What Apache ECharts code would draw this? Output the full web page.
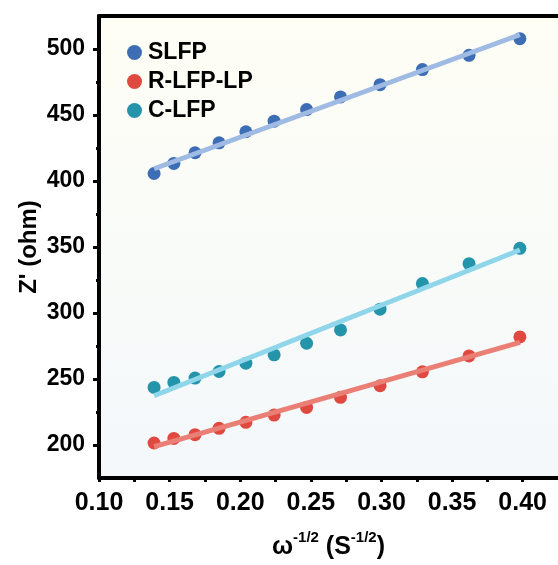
<!DOCTYPE html>
<html>
<head>
<meta charset="utf-8">
<script src="https://cdn.jsdelivr.net/npm/echarts@6/dist/echarts.min.js"></script>
<style>html,body{margin:0;padding:0;background:#fff}#c{width:558px;height:565px}</style>
</head>
<body>
<div id="c"></div>
<script>
// ---- data ----
const xValues = [0.139, 0.153, 0.168, 0.185, 0.204, 0.224, 0.247, 0.271, 0.299, 0.329, 0.362, 0.398];
const slfp    = [405.7, 413.3, 421.4, 428.9, 437.3, 445.3, 454.1, 463.7, 473.0, 484.4, 495.2, 507.8];
const rlfplp  = [201.5, 205.0, 207.8, 212.6, 217.2, 222.7, 228.5, 236.1, 244.9, 255.4, 267.5, 281.9];
const clfp    = [243.6, 247.4, 250.7, 255.7, 262.0, 268.3, 277.1, 287.2, 302.9, 322.3, 337.4, 349.0];
// fitted straight lines (end points)
const fitX     = [0.139, 0.398];
const fitSLFP  = [409.3, 510.8];
const fitRLFP  = [198.7, 277.7];
const fitCLFP  = [237.3, 347.7];
// axis ticks
const xTickLabels = [0.10, 0.15, 0.20, 0.25, 0.30, 0.35, 0.40];
const xTicksAll   = [0.10, 0.125, 0.15, 0.175, 0.20, 0.225, 0.25, 0.275, 0.30, 0.325, 0.35, 0.375, 0.40];
const yTickLabels = [200, 250, 300, 350, 400, 450, 500];
const yMinorTicks = [225, 275, 325, 375, 425, 475];
const seriesNames = ['SLFP', 'R-LFP-LP', 'C-LFP'];

const FONT = 'Liberation Sans, Arial, Helvetica, sans-serif';
const dotColors = ['#3d6db5', '#e0493f', '#2494ab'];
const lineColors = ['#9fbbe3', '#ea7f76', '#8fd6ea'];

function pairs(xs, ys) { return xs.map((x, i) => [x, ys[i]]); }

const chart = echarts.init(document.getElementById('c'), null, {renderer: 'canvas'});
const xMin = 0.1, xMax = 0.425, yMin = 175, yMax = 525;

const option = {
  animation: false,
  textStyle: {fontFamily: FONT},
  grid: {
    left: 99, top: 16, right: -5, bottom: 87,
    show: true, borderWidth: 0,
    backgroundColor: {type: 'linear', x: 0, y: 0, x2: 0, y2: 1,
      colorStops: [{offset: 0, color: '#fefef5'}, {offset: 1, color: '#f4f8fb'}]}
  },
  legend: {
    data: seriesNames,
    orient: 'vertical', left: 122, top: 36,
    icon: 'circle', itemWidth: 15, itemHeight: 15, itemGap: 6,
    textStyle: {fontFamily: FONT, fontSize: 23, fontWeight: 'bold', color: '#000', lineHeight: 23, padding: [0, 0, 0, 1]}
  },
  xAxis: [
    {
      type: 'value', position: 'bottom', min: xMin, max: xMax,
      splitLine: {show: false},
      axisLine: {show: true, onZero: false, lineStyle: {color: '#000', width: 4}},
      axisTick: {show: true, customValues: xTicksAll, length: 4, lineStyle: {color: '#000', width: 3}},
      axisLabel: {customValues: xTickLabels, margin: 13, fontSize: 25, fontWeight: 'bold', color: '#000', fontFamily: FONT,
        formatter: v => v.toFixed(2)},
      name: '{b|ω}{s|-1/2}{b| (S}{s|-1/2}{b|)}',
      nameLocation: 'middle', nameGap: 52, nameMoveOverlap: false,
      nameTextStyle: {
        rich: {
          b: {fontSize: 25, fontWeight: 'bold', color: '#000', fontFamily: FONT, verticalAlign: 'bottom', lineHeight: 30},
          s: {fontSize: 15, fontWeight: 'bold', color: '#000', fontFamily: FONT, verticalAlign: 'top', lineHeight: 30}
        }
      }
    },
    {
      type: 'value', position: 'top', min: xMin, max: xMax,
      splitLine: {show: false},
      axisLine: {show: true, onZero: false, lineStyle: {color: '#000', width: 4}},
      axisTick: {show: false}, axisLabel: {show: false}
    }
  ],
  yAxis: [
    {
      type: 'value', position: 'left', min: yMin, max: yMax,
      splitLine: {show: false},
      axisLine: {show: true, onZero: false, lineStyle: {color: '#000', width: 4}},
      axisTick: {show: true, customValues: yTickLabels, length: 6, lineStyle: {color: '#000', width: 3}},
      axisLabel: {customValues: yTickLabels, margin: 14, fontSize: 23, fontWeight: 'bold', color: '#000', fontFamily: FONT},
      name: "Z' (ohm)", nameLocation: 'middle', nameGap: 58, nameRotate: 90, nameMoveOverlap: false,
      nameTextStyle: {fontSize: 24, fontWeight: 'bold', color: '#000', fontFamily: FONT}
    },
    {
      type: 'value', position: 'left', min: yMin, max: yMax,
      splitLine: {show: false},
      axisLine: {show: false},
      axisTick: {show: true, customValues: yMinorTicks, length: 3, lineStyle: {color: '#000', width: 3}},
      axisLabel: {show: false}
    }
  ],
  series: [
    {name: seriesNames[0], type: 'scatter', data: pairs(xValues, slfp), symbolSize: 13, itemStyle: {color: dotColors[0], opacity: 1}, z: 2},
    {name: seriesNames[1], type: 'scatter', data: pairs(xValues, rlfplp), symbolSize: 13, itemStyle: {color: dotColors[1], opacity: 1}, z: 2},
    {name: seriesNames[2], type: 'scatter', data: pairs(xValues, clfp), symbolSize: 13, itemStyle: {color: dotColors[2], opacity: 1}, z: 2},
    {name: 'fit1', type: 'line', data: pairs(fitX, fitSLFP), showSymbol: false, symbol: 'none', lineStyle: {color: lineColors[0], width: 5}, z: 3},
    {name: 'fit2', type: 'line', data: pairs(fitX, fitRLFP), showSymbol: false, symbol: 'none', lineStyle: {color: lineColors[1], width: 5}, z: 3},
    {name: 'fit3', type: 'line', data: pairs(fitX, fitCLFP), showSymbol: false, symbol: 'none', lineStyle: {color: lineColors[2], width: 5}, z: 3}
  ]
};
chart.setOption(option);
</script>
</body>
</html>
